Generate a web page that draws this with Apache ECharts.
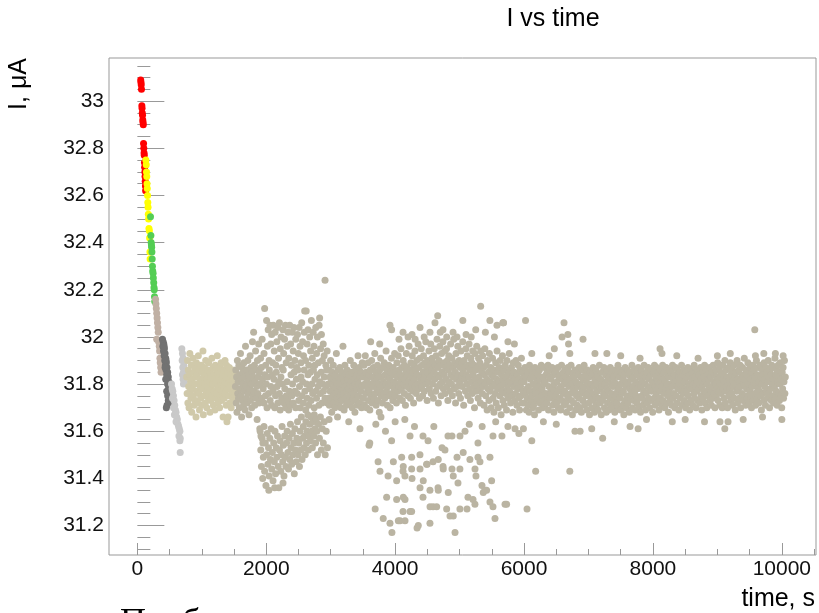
<!DOCTYPE html>
<html>
<head>
<meta charset="utf-8">
<title>I vs time</title>
<script src="https://cdn.jsdelivr.net/npm/echarts@6/dist/echarts.min.js"></script>
<style>
  html, body { margin: 0; padding: 0; background: #fff; }
  #chart { width: 819px; height: 613px; }
</style>
</head>
<body>
<div id="chart"></div>
<script>
// axis ticks
const xMajor = [0, 2000, 4000, 6000, 8000, 10000];
const xMinor = [500, 1000, 1500, 2500, 3000, 3500, 4500, 5000, 5500, 6500, 7000, 7500, 8500, 9000, 9500, 10500];
const yMajor = [31.2, 31.4, 31.6, 31.8, 32, 32.2, 32.4, 32.6, 32.8, 33];
const yMinor = [31.1, 31.15, 31.25, 31.3, 31.35, 31.45, 31.5, 31.55, 31.65, 31.7, 31.75, 31.85, 31.9, 31.95,
  32.05, 32.1, 32.15, 32.25, 32.3, 32.35, 32.45, 32.5, 32.55, 32.65, 32.7, 32.75, 32.85, 32.9, 32.95, 33.05, 33.1, 33.15];

// [time s, current uA]
const redPts = [[52,33.09],[56,33.08],[60,33.07],[64,33.05],[70,32.98],[73,32.97],[76,32.95],[80,32.94],[84,32.92],[88,32.91],
  [92,32.9],[96,32.82],[100,32.8],[104,32.78],[107,32.77],[110,32.74],[113,32.72],[116,32.7],[119,32.68],[122,32.66],[125,32.64],[128,32.62]];
const yellowPts = [[132,32.75],[138,32.73],[142,32.7],[146,32.68],[150,32.65],[154,32.63],[158,32.6],[162,32.57],[166,32.55],
  [170,32.52],[174,32.5],[180,32.46],[186,32.45],[190,32.42],[195,32.36],[198,32.33]];
const greenPts = [[204,32.51],[210,32.43],[214,32.4],[218,32.39],[222,32.38],[226,32.36],[230,32.33],[234,32.3],[238,32.28],
  [244,32.27],[248,32.25],[254,32.23],[258,32.21],[262,32.2],[266,32.17],[270,32.15]];
const tanPts = [[282,32.16],[288,32.14],[294,32.12],[300,32.1],[306,32.08],[312,32.06],[318,32.04],[324,32.02],[300,31.99],
  [330,31.98],[340,31.96],[345,31.94],[350,31.91],[355,31.89],[362,31.87],[368,31.85]];
const darkPts = [[390,31.99],[400,31.98],[410,31.97],[395,31.96],[420,31.95],[405,31.94],[430,31.93],[415,31.92],[440,31.91],
  [425,31.9],[450,31.89],[435,31.88],[460,31.87],[445,31.86],[470,31.85],[455,31.84],[480,31.83],[465,31.82],[490,31.81],
  [475,31.8],[500,31.79],[485,31.78],[510,31.77],[495,31.76],[470,31.75],[505,31.74],[480,31.73],[460,31.71],[520,31.72],
  [450,31.7],[415,31.96],[445,31.9],[430,31.87],[465,31.84],[490,31.78],[500,31.74],[470,31.8],[455,31.77],[440,31.82]];
const lightPts = [[690,31.95],[700,31.93],[710,31.91],[695,31.9],[720,31.88],[705,31.87],[715,31.85],[700,31.84],[725,31.83],
  [710,31.82],[730,31.81],[715,31.8],[530,31.8],[540,31.78],[550,31.77],[560,31.75],[545,31.74],[570,31.73],[580,31.71],
  [560,31.7],[590,31.69],[600,31.68],[575,31.67],[610,31.66],[620,31.65],[600,31.64],[630,31.63],[640,31.62],[650,31.61],
  [660,31.6],[645,31.58],[665,31.57],[660,31.56],[665,31.51]];
const beigePts = [[765,31.83],[772,31.76],[778,31.9],[784,31.72],[790,31.86],[796,31.79],[802,31.7],[808,31.84],[814,31.93],
  [820,31.77],[826,31.81],[832,31.74],[838,31.88],[844,31.68],[850,31.82],[856,31.78],[862,31.91],[868,31.75],[874,31.85],
  [880,31.71],[886,31.8],[892,31.87],[898,31.73],[904,31.83],[910,31.66],[916,31.89],[922,31.77],[928,31.84],[934,31.72],
  [940,31.8],[946,31.92],[952,31.76],[958,31.86],[964,31.69],[970,31.82],[976,31.79],[982,31.74],[988,31.88],[994,31.81],
  [1000,31.71],[1006,31.85],[1012,31.78],[1018,31.94],[1024,31.67],[1030,31.83],[1036,31.75],[1042,31.87],[1048,31.8],
  [1054,31.72],[1060,31.9],[1066,31.77],[1072,31.84],[1078,31.7],[1084,31.82],[1090,31.79],[1096,31.86],[1102,31.74],
  [1108,31.89],[1114,31.76],[1120,31.81],[1126,31.68],[1132,31.85],[1138,31.73],[1144,31.83],[1150,31.78],[1156,31.91],
  [1162,31.75],[1168,31.8],[1174,31.87],[1180,31.71],[1186,31.84],[1192,31.77],[1198,31.82],[1204,31.69],[1210,31.88],
  [1216,31.74],[1222,31.81],[1228,31.86],[1234,31.76],[1240,31.92],[1246,31.79],[1252,31.72],[1258,31.85],[1264,31.78],
  [1270,31.83],[1276,31.7],[1282,31.87],[1288,31.75],[1294,31.8],[1300,31.89],[1306,31.73],[1312,31.82],[1318,31.77],
  [1324,31.84],[1330,31.66],[1336,31.79],[1342,31.86],[1348,31.74],[1354,31.81],[1360,31.9],[1366,31.76],[1372,31.83],
  [1378,31.71],[1384,31.88],[1390,31.64],[1396,31.78],[1402,31.85],[1408,31.66],[1414,31.8],[1420,31.75],[1426,31.87],
  [1432,31.72],[1438,31.82],[1444,31.79],[1450,31.84],[1456,31.7],[1462,31.81],[1468,31.77],[1474,31.86],[1480,31.74],
  [1486,31.8],[1492,31.73],[1498,31.83],[1504,31.78],[1510,31.85],[1516,31.76]];

// main run, split by time range
const seg1500 = [[1522,31.79],[1528,31.86],[1534,31.72],[1540,31.83],[1546,31.68],[1552,31.9],[1558,31.76],[1564,31.81],
  [1570,31.74],[1576,31.88],[1582,31.7],[1588,31.84],[1594,31.78],[1600,31.93],[1606,31.75],[1612,31.82],[1618,31.66],
  [1624,31.87],[1630,31.73],[1636,31.8],[1642,31.85],[1648,31.71],[1654,31.89],[1660,31.77],[1666,31.83],[1672,31.69],
  [1678,31.96],[1684,31.79],[1690,31.74],[1696,31.86],[1702,31.72],[1708,31.81],[1714,31.9],[1720,31.76],[1726,31.84],
  [1732,31.67],[1738,31.82],[1744,31.78],[1750,31.92],[1756,31.73],[1762,31.87],[1768,31.8],[1774,31.7],[1780,31.85],
  [1786,31.98],[1792,31.75],[1798,31.83],[1804,32.02],[1810,31.77],[1816,31.88],[1822,31.71],[1828,31.81],[1834,31.94],
  [1840,31.74],[1846,31.86],[1852,31.79],[1858,31.65],[1864,31.9],[1870,31.76],[1876,31.83],[1882,31.97],[1888,31.72],
  [1894,31.85],[1900,31.61],[1906,31.8],[1912,31.91],[1918,31.58],[1924,31.87],[1930,31.74],[1936,31.99],[1942,31.82],[1948,31.55]];
const upper2000 = [[1965,31.93],[1975,32.12],[1990,31.88],[2005,32.07],[2018,31.96],[2030,32.03],[2044,31.9],[2058,32.05],
  [2070,31.97],[2084,32.01],[2098,31.89],[2110,32.05],[2124,31.94],[2138,32.02],[2150,31.88],[2164,31.98],[2178,32.04],
  [2190,31.91],[2204,32.06],[2218,31.95],[2230,32.0],[2244,31.87],[2258,32.03],[2270,31.93],[2284,31.99],[2298,32.05],
  [2310,31.89],[2324,31.96],[2338,32.02],[2350,31.91],[2364,32.05],[2378,31.97],[2390,31.88],[2404,32.02],[2418,31.94],
  [2430,32.04],[2444,31.9],[2458,31.99],[2470,31.87],[2484,32.01],[2498,31.93],[2510,32.04],[2524,31.96],[2538,31.89],
  [2550,32.06],[2564,31.98],[2578,31.92],[2590,32.02],[2596,32.11],[2610,31.9],[2620,32.11],[2634,31.97],[2648,32.03],
  [2660,31.88],[2674,32.0],[2688,31.94],[2700,32.07],[2714,31.91],[2728,32.02],[2740,31.96],[2754,31.88],[2768,32.04],
  [2780,31.93],[2794,32.0],[2808,31.89],[2820,32.05],[2828,32.08],[2842,31.95],[2856,32.01],[2870,31.9],[2884,31.97],
  [2898,31.92],[2912,32.24],[2925,31.88],[2945,31.94]];
const mid2000 = [[1952,31.78],[1964,31.72],[1976,31.84],[1988,31.75],[2000,31.8],[2012,31.7],[2024,31.83],[2036,31.76],
  [2048,31.86],[2060,31.73],[2072,31.79],[2084,31.71],[2096,31.84],[2108,31.77],[2120,31.82],[2132,31.7],[2144,31.75],
  [2156,31.85],[2168,31.79],[2180,31.72],[2192,31.81],[2204,31.76],[2216,31.69],[2228,31.83],[2240,31.74],[2252,31.8],
  [2264,31.86],[2276,31.72],[2288,31.78],[2300,31.7],[2312,31.75],[2324,31.81],[2336,31.73],[2348,31.69],[2360,31.77],
  [2372,31.71],[2384,31.84],[2396,31.75],[2408,31.8],[2420,31.72],[2432,31.85],[2444,31.77],[2456,31.7],[2468,31.82],
  [2480,31.76],[2492,31.86],[2504,31.73],[2516,31.79],[2528,31.7],[2540,31.83],[2552,31.75],[2564,31.81],[2576,31.72],
  [2588,31.86],[2600,31.77],[2612,31.69],[2624,31.8],[2636,31.74],[2648,31.84],[2660,31.71],[2672,31.78],[2684,31.85],
  [2696,31.73],[2708,31.8],[2720,31.76],[2732,31.86],[2744,31.7],[2756,31.82],[2768,31.77],[2780,31.74],[2792,31.84],
  [2804,31.79],[2816,31.71],[2828,31.81],[2840,31.76],[2852,31.85],[2864,31.72],[2876,31.8],[2888,31.77],[2900,31.83],
  [2912,31.74],[2924,31.79],[2936,31.86],[2948,31.72]];
const low2000 = [[1905,31.6],[1915,31.52],[1925,31.45],[1935,31.57],[1945,31.4],[1955,31.49],[1965,31.62],[1975,31.43],
  [1985,31.55],[1995,31.37],[2005,31.5],[2015,31.59],[2025,31.46],[2035,31.53],[2045,31.41],[2055,31.57],[2065,31.48],
  [2075,31.61],[2085,31.44],[2095,31.51],[2105,31.39],[2115,31.55],[2125,31.47],[2135,31.6],[2145,31.42],[2155,31.53],
  [2165,31.49],[2175,31.58],[2185,31.45],[2195,31.36],[2205,31.52],[2215,31.56],[2225,31.43],[2235,31.5],[2245,31.62],
  [2255,31.47],[2265,31.54],[2275,31.41],[2285,31.58],[2295,31.49],[2305,31.45],[2315,31.55],[2325,31.6],[2335,31.51],
  [2345,31.44],[2355,31.57],[2365,31.48],[2375,31.63],[2385,31.53],[2395,31.46],[2405,31.59],[2415,31.5],[2425,31.55],
  [2435,31.42],[2445,31.61],[2455,31.52],[2465,31.47],[2475,31.57],[2485,31.64],[2495,31.5],[2505,31.55],[2515,31.45],
  [2525,31.6],[2535,31.52],[2545,31.66],[2555,31.48],[2565,31.57],[2575,31.62],[2585,31.53],[2595,31.58],[2605,31.5],
  [2615,31.64],[2625,31.55],[2635,31.6],[2645,31.67],[2655,31.52],[2665,31.58],[2675,31.63],[2685,31.56],[2695,31.66],
  [2705,31.6],[2715,31.53],[2725,31.64],[2735,31.58],[2745,31.67],[2755,31.61],[2765,31.55],[2775,31.65],[2785,31.6],
  [2795,31.5],[2810,31.63],[2825,31.57],[2840,31.66],[2855,31.52],[2870,31.61],[2885,31.55],[2900,31.64],[2915,31.5],
  [2930,31.6],[2950,31.53],[2975,31.65],[2040,31.35],[2130,31.36],[2260,31.38]];
const seg3000 = [[2962,31.8],[2968,31.74],[2974,31.86],[2980,31.71],[2986,31.83],[2992,31.77],[2998,31.9],[3004,31.73],
  [3010,31.81],[3016,31.68],[3022,31.85],[3028,31.78],[3034,31.75],[3040,31.88],[3046,31.72],[3052,31.82],[3058,31.79],
  [3064,31.7],[3070,31.84],[3076,31.76],[3082,31.81],[3088,31.93],[3094,31.74],[3100,31.8],[3106,31.66],[3112,31.86],
  [3118,31.77],[3124,31.83],[3130,31.72],[3136,31.79],[3142,31.87],[3148,31.75],[3154,31.82],[3160,31.7],[3166,31.78],
  [3172,31.85],[3178,31.73],[3184,31.8],[3190,31.96],[3196,31.76],[3202,31.83],[3208,31.69],[3214,31.81],[3220,31.88],
  [3226,31.74],[3232,31.79],[3238,31.84],[3244,31.71],[3250,31.77],[3256,31.86],[3262,31.73],[3268,31.82],[3274,31.78],
  [3280,31.64],[3286,31.84],[3292,31.75],[3298,31.8],[3304,31.9],[3310,31.72],[3316,31.81],[3322,31.77],[3328,31.85],
  [3334,31.7],[3340,31.79],[3346,31.83],[3352,31.74],[3358,31.88],[3364,31.76],[3370,31.82],[3376,31.68],[3382,31.8],
  [3388,31.86],[3394,31.73],[3400,31.78],[3406,31.84],[3412,31.71],[3418,31.81],[3424,31.92],[3430,31.75],[3436,31.8],
  [3442,31.87],[3448,31.72],[3454,31.61],[3460,31.83],[3466,31.77],[3472,31.85],[3478,31.7],[3484,31.79],[3490,31.89],[3496,31.74]];
const band3500 = [[3502,31.83],[3509,31.74],[3516,31.88],[3523,31.71],[3530,31.8],[3537,31.92],[3544,31.76],[3551,31.85],
  [3558,31.7],[3565,31.82],[3572,31.78],[3579,31.89],[3586,31.73],[3593,31.84],[3600,31.77],[3607,31.69],[3614,31.86],
  [3621,31.8],[3628,31.75],[3635,31.9],[3642,31.72],[3649,31.83],[3656,31.79],[3663,31.87],[3670,31.74],[3677,31.81],
  [3684,31.93],[3691,31.76],[3698,31.85],[3705,31.71],[3712,31.82],[3719,31.78],[3726,31.88],[3733,31.73],[3740,31.84],
  [3747,31.8],[3754,31.68],[3761,31.86],[3768,31.77],[3775,31.91],[3782,31.75],[3789,31.83],[3796,31.79],[3803,31.72],
  [3810,31.87],[3817,31.81],[3824,31.76],[3831,31.89],[3838,31.74],[3845,31.84],[3852,31.8],[3859,31.94],[3866,31.77],
  [3873,31.86],[3880,31.71],[3887,31.83],[3894,31.79],[3901,31.88],[3908,31.75],[3915,31.82],[3922,31.7],[3929,31.85],
  [3936,31.8],[3943,31.91],[3950,31.76],[3957,31.84],[3964,31.73],[3971,31.87],[3978,31.81],[3985,31.78],[3992,31.93],
  [3999,31.75],[4006,31.85],[4013,31.8],[4020,31.72],[4027,31.89],[4034,31.83],[4041,31.77],[4048,31.92],[4055,31.79],
  [4062,31.86],[4069,31.74],[4076,31.84],[4083,31.81],[4090,31.95],[4097,31.78],[4104,31.87],[4111,31.73],[4118,31.83],
  [4125,31.9],[4132,31.8],[4139,31.76],[4146,31.88],[4153,31.82],[4160,31.71],[4167,31.85],[4174,31.93],[4181,31.79],
  [4188,31.87],[4195,31.75],[4202,31.84],[4209,31.81],[4216,31.96],[4223,31.78],[4230,31.86],[4237,31.74],[4244,31.89],
  [4251,31.83],[4258,31.8],[4265,31.92],[4272,31.77],[4279,31.85],[4286,31.72],[4293,31.88],[4300,31.82],[4307,31.94],
  [4314,31.79],[4321,31.86],[4328,31.76],[4335,31.9],[4342,31.84],[4349,31.8],[4356,31.97],[4363,31.78],[4370,31.87],
  [4377,31.74],[4384,31.91],[4391,31.83],[4398,31.81],[4405,31.95],[4412,31.79],[4419,31.88],[4426,31.75],[4433,31.85],
  [4440,31.92],[4447,31.82],[4454,31.77],[4461,31.89],[4468,31.84],[4475,31.98],[4482,31.8],[4489,31.87],[4496,31.73],
  [4503,31.9],[4510,31.85],[4517,31.81],[4524,31.94],[4531,31.78],[4538,31.88],[4545,31.83],[4552,31.97],[4559,31.76],
  [4566,31.86],[4573,31.91],[4580,31.8],[4587,31.89],[4594,31.74],[4601,31.85],[4608,31.95],[4615,31.82],[4622,31.88],
  [4629,31.77],[4636,31.92],[4643,31.84],[4650,31.99],[4657,31.79],[4664,31.87],[4671,31.72],[4678,31.9],[4685,31.83],
  [4692,31.96],[4699,31.8],[4706,31.88],[4713,31.75],[4720,31.93],[4727,31.85],[4734,31.81],[4741,31.98],[4748,31.78],
  [4755,31.89],[4762,31.84],[4769,31.94],[4776,31.76],[4783,31.87],[4790,31.82],[4797,31.95],[4804,31.79],[4811,31.9],
  [4818,31.73],[4825,31.86],[4832,31.92],[4839,31.81],[4846,31.88],[4853,31.77],[4860,31.97],[4867,31.84],[4874,31.8],
  [4881,31.91],[4888,31.75],[4895,31.87],[4902,31.83],[4909,31.99],[4916,31.78],[4923,31.89],[4930,31.85],[4937,31.72],
  [4944,31.93],[4951,31.82],[4958,31.88],[4965,31.79],[4972,31.96],[4979,31.84],[4986,31.76],[4993,31.9],[5000,31.81],
  [5007,31.87],[5014,31.74],[5021,31.94],[5028,31.83],[5035,31.89],[5042,31.79],[5049,31.98],[5056,31.85],[5063,31.71],
  [5070,31.9],[5077,31.82],[5084,31.87],[5091,31.77],[5098,31.95],[5105,31.84],[5112,31.8],[5119,31.92],[5126,31.75],
  [5133,31.88],[5140,31.83],[5147,31.97],[5154,31.78],[5161,31.86],[5168,31.73],[5175,31.91],[5182,31.81],[5189,31.89],
  [5196,31.76],[5203,31.94],[5210,31.84],[5217,31.79],[5224,31.88],[5231,31.7],[5238,31.93],[5245,31.82],[5252,31.86],
  [5259,31.77],[5266,31.96],[5273,31.8],[5280,31.87],[5287,31.74],[5294,31.91],[5301,31.83],[5308,31.78],[5315,31.89],
  [5322,31.72],[5329,31.94],[5336,31.81],[5343,31.85],[5350,31.76],[5357,31.92],[5364,31.79],[5371,31.87],[5378,31.71],
  [5385,31.84],[5392,31.95],[5399,31.8],[5406,31.75],[5413,31.88],[5420,31.82],[5427,31.69],[5434,31.9],[5441,31.78],
  [5448,31.85],[5455,31.73],[5462,31.93],[5469,31.81],[5476,31.77],[5483,31.87],[5490,31.7],[5497,31.84],[5504,31.79],
  [5511,31.91],[5518,31.74],[5525,31.83],[5532,31.68],[5539,31.86],[5546,31.8],[5553,31.76],[5560,31.89],[5567,31.72],
  [5574,31.82],[5581,31.94],[5588,31.78],[5595,31.85],[5602,31.7],[5609,31.81],[5616,31.87],[5623,31.75],[5630,31.9],
  [5637,31.79],[5644,31.67],[5651,31.84],[5658,31.77],[5665,31.92],[5672,31.73],[5679,31.82],[5686,31.86],[5693,31.71],
  [5700,31.8],[5707,31.88],[5714,31.76],[5721,31.83],[5728,31.69],[5735,31.9],[5742,31.78],[5749,31.84],[5756,31.74],
  [5763,31.81],[5770,31.93],[5777,31.77],[5784,31.86],[5791,31.72],[5798,31.8],[5805,31.87],[5812,31.75],[5819,31.83],
  [5826,31.68],[5833,31.89],[5840,31.79],[5847,31.85],[5854,31.73],[5861,31.82],[5868,31.76],[5875,31.9],[5882,31.8],
  [5889,31.71],[5896,31.84],[5903,31.78],[5910,31.88],[5917,31.74],[5924,31.82],[5931,31.69],[5938,31.86],[5945,31.79],
  [5952,31.75],[5959,31.91],[5966,31.81],[5973,31.72],[5980,31.85],[5987,31.77],[5994,31.83]];
const upper3500 = [[3620,31.98],[3760,31.97],[3920,32.05],[3945,32.03],[4060,31.99],[4122,32.02],[4200,32.0],[4262,32.01],
  [4310,31.99],[4386,32.04],[4450,32.0],[4540,32.02],[4618,32.06],[4660,32.09],[4700,32.02],[4742,32.03],[4800,32.0],
  [4898,32.02],[4960,32.0],[5050,32.07],[5100,32.01],[5180,32.0],[5250,32.03],[5327,32.13],[5400,32.02],[5470,32.07],
  [5540,32.0],[5580,32.05],[5670,32.06],[5680,32.06],[5750,31.98],[5850,31.97]];
const lowMid3500 = [[3595,31.54],[3606,31.55],[3700,31.63],[3850,31.6],[3945,31.56],[4000,31.64],[4231,31.58],[4300,31.62],
  [4432,31.58],[4510,31.56],[4600,31.62],[4820,31.58],[4882,31.58],[5006,31.58],[5084,31.6],[5150,31.63],[5350,31.62],
  [5518,31.58],[5657,31.58],[5750,31.62],[5860,31.61],[5990,31.61],[5920,31.59],[5560,31.64],[4150,31.65],[3780,31.66]];
const lowCluster = [[3690,31.27],[3735,31.47],[3765,31.43],[3815,31.23],[3868,31.32],[3890,31.41],[3920,31.21],[3950,31.17],
  [3972,31.47],[4023,31.39],[4023,31.31],[4049,31.22],[4076,31.22],[4101,31.49],[4122,31.43],[4126,31.45],[4126,31.32],
  [4152,31.41],[4153,31.22],[4153,31.31],[4122,31.26],[4231,31.26],[4256,31.49],[4256,31.44],[4256,31.26],[4262,31.4],
  [4340,31.19],[4359,31.2],[4385,31.5],[4386,31.44],[4386,31.36],[4432,31.32],[4436,31.39],[4488,31.46],[4495,31.46],
  [4540,31.35],[4540,31.21],[4541,31.28],[4588,31.47],[4588,31.28],[4644,31.28],[4665,31.36],[4669,31.48],[4669,31.35],
  [4727,31.53],[4743,31.45],[4746,31.44],[4773,31.52],[4799,31.27],[4824,31.34],[4851,31.24],[4882,31.44],[4902,31.41],
  [4902,31.24],[4929,31.17],[4960,31.49],[4975,31.38],[5005,31.44],[5005,31.27],[5056,31.51],[5115,31.27],[5130,31.32],
  [5160,31.48],[5208,31.31],[5238,31.29],[5239,31.44],[5254,31.41],[5285,31.49],[5285,31.55],[5316,31.47],[5347,31.37],
  [5367,31.34],[5394,31.35],[5419,31.35],[5471,31.49],[5471,31.3],[5497,31.39],[5518,31.28],[5549,31.23],[5705,31.29],
  [5729,31.29],[6046,31.27]];
const band6000 = [[6001,31.81],[6008,31.72],[6015,31.87],[6022,31.76],[6029,31.83],[6036,31.69],[6043,31.78],[6050,31.74],
  [6057,31.85],[6064,31.71],[6071,31.79],[6078,31.68],[6085,31.88],[6092,31.77],[6099,31.82],[6106,31.73],[6113,31.86],
  [6120,31.75],[6127,31.84],[6134,31.7],[6141,31.8],[6148,31.71],[6155,31.83],[6162,31.67],[6169,31.87],[6176,31.78],
  [6183,31.76],[6190,31.85],[6197,31.73],[6204,31.81],[6211,31.74],[6218,31.84],[6225,31.69],[6232,31.79],[6239,31.86],
  [6246,31.72],[6253,31.82],[6260,31.77],[6267,31.88],[6274,31.75],[6281,31.78],[6288,31.7],[6295,31.83],[6302,31.8],
  [6309,31.73],[6316,31.87],[6323,31.71],[6330,31.81],[6337,31.76],[6344,31.84],[6351,31.72],[6358,31.85],[6365,31.75],
  [6372,31.88],[6379,31.69],[6386,31.79],[6393,31.83],[6400,31.74],[6407,31.86],[6414,31.77],[6421,31.82],[6428,31.76],
  [6435,31.87],[6442,31.71],[6449,31.78],[6456,31.84],[6463,31.68],[6470,31.8],[6477,31.73],[6484,31.85],[6491,31.75],
  [6498,31.86],[6505,31.72],[6512,31.81],[6519,31.77],[6526,31.87],[6533,31.7],[6540,31.83],[6547,31.78],[6554,31.74],
  [6561,31.84],[6568,31.69],[6575,31.79],[6582,31.88],[6589,31.73],[6596,31.82],[6603,31.76],[6610,31.85],[6617,31.71],
  [6624,31.8],[6631,31.77],[6638,31.86],[6645,31.72],[6652,31.83],[6659,31.68],[6666,31.81],[6673,31.75],[6680,31.87],
  [6687,31.74],[6694,31.79],[6701,31.85],[6708,31.7],[6715,31.82],[6722,31.76],[6729,31.88],[6736,31.73],[6743,31.8],
  [6750,31.67],[6757,31.84],[6764,31.78],[6771,31.72],[6778,31.83],[6785,31.77],[6792,31.86],[6799,31.69],[6806,31.81],
  [6813,31.75],[6820,31.85],[6827,31.71],[6834,31.79],[6841,31.84],[6848,31.74],[6855,31.87],[6862,31.7],[6869,31.8],
  [6876,31.76],[6883,31.83],[6890,31.68],[6897,31.78],[6904,31.86],[6911,31.73],[6918,31.82],[6925,31.77],[6932,31.88],
  [6939,31.71],[6946,31.79],[6953,31.84],[6960,31.75],[6967,31.81],[6974,31.69],[6981,31.86],[6988,31.76],[6995,31.8],
  [7002,31.72],[7009,31.83],[7016,31.67],[7023,31.78],[7030,31.85],[7037,31.74],[7044,31.8],[7051,31.7],[7058,31.84],
  [7065,31.76],[7072,31.87],[7079,31.73],[7086,31.79],[7093,31.68],[7100,31.82],[7107,31.75],[7114,31.86],[7121,31.71],
  [7128,31.8],[7135,31.77],[7142,31.84],[7149,31.69],[7156,31.83],[7163,31.74],[7170,31.88],[7177,31.72],[7184,31.78],
  [7191,31.82],[7198,31.67],[7205,31.79],[7212,31.85],[7219,31.73],[7226,31.81],[7233,31.76],[7240,31.87],[7247,31.7],
  [7254,31.8],[7261,31.75],[7268,31.84],[7275,31.68],[7282,31.78],[7289,31.86],[7296,31.72],[7303,31.82],[7310,31.77],
  [7317,31.69],[7324,31.83],[7331,31.74],[7338,31.87],[7345,31.71],[7352,31.8],[7359,31.76],[7366,31.85],[7373,31.7],
  [7380,31.79],[7387,31.83],[7394,31.73],[7401,31.81],[7408,31.68],[7415,31.86],[7422,31.75],[7429,31.8],[7436,31.72],
  [7443,31.84],[7450,31.77],[7457,31.88],[7464,31.7],[7471,31.78],[7478,31.83],[7485,31.74],[7492,31.86],[7499,31.69],
  [7506,31.8],[7513,31.76],[7520,31.85],[7527,31.71],[7534,31.82],[7541,31.77],[7548,31.67],[7555,31.84],[7562,31.73],
  [7569,31.87],[7576,31.79],[7583,31.7],[7590,31.81],[7597,31.75],[7604,31.86],[7611,31.72],[7618,31.8],[7625,31.84],
  [7632,31.68],[7639,31.78],[7646,31.85],[7653,31.74],[7660,31.82],[7667,31.76],[7674,31.88],[7681,31.7],[7688,31.79],
  [7695,31.83],[7702,31.73],[7709,31.86],[7716,31.77],[7723,31.69],[7730,31.81],[7737,31.75],[7744,31.85],[7751,31.72],
  [7758,31.84],[7765,31.78],[7772,31.87],[7779,31.7],[7786,31.8],[7793,31.74],[7800,31.83],[7807,31.68],[7814,31.79],
  [7821,31.86],[7828,31.75],[7835,31.81],[7842,31.71],[7849,31.84],[7856,31.77],[7863,31.88],[7870,31.73],[7877,31.8],
  [7884,31.69],[7891,31.83],[7898,31.76],[7905,31.85],[7912,31.72],[7919,31.79],[7926,31.87],[7933,31.74],[7940,31.82],
  [7947,31.7],[7954,31.78],[7961,31.84],[7968,31.73],[7975,31.86],[7982,31.77],[7989,31.81],[7996,31.68],[8003,31.8],
  [8010,31.85],[8017,31.74],[8024,31.88],[8031,31.71],[8038,31.79],[8045,31.83],[8052,31.76],[8059,31.87],[8066,31.72],
  [8073,31.81],[8080,31.78],[8087,31.85],[8094,31.69],[8101,31.8],[8108,31.74],[8115,31.86],[8122,31.77],[8129,31.83],
  [8136,31.71],[8143,31.79],[8150,31.88],[8157,31.73],[8164,31.82],[8171,31.76],[8178,31.85],[8185,31.7],[8192,31.81],
  [8199,31.78],[8206,31.87],[8213,31.72],[8220,31.8],[8227,31.84],[8234,31.75],[8241,31.68],[8248,31.83],[8255,31.77],
  [8262,31.86],[8269,31.73],[8276,31.8],[8283,31.85],[8290,31.71],[8297,31.79],[8304,31.88],[8311,31.74],[8318,31.82],
  [8325,31.76],[8332,31.84],[8339,31.7],[8346,31.81],[8353,31.87],[8360,31.75],[8367,31.79],[8374,31.72],[8381,31.86],
  [8388,31.78],[8395,31.83],[8402,31.69],[8409,31.8],[8416,31.85],[8423,31.74],[8430,31.82],[8437,31.77],[8444,31.88],
  [8451,31.71],[8458,31.79],[8465,31.84],[8472,31.76],[8479,31.86],[8486,31.73],[8493,31.81],[8500,31.78],[8507,31.7],
  [8514,31.85],[8521,31.77],[8528,31.83],[8535,31.72],[8542,31.87],[8549,31.75],[8556,31.8],[8563,31.84],[8570,31.69],
  [8577,31.79],[8584,31.86],[8591,31.73],[8598,31.82],[8605,31.78],[8612,31.85],[8619,31.71],[8626,31.8],[8633,31.76],
  [8640,31.88],[8647,31.74],[8654,31.83],[8661,31.79],[8668,31.7],[8675,31.86],[8682,31.77],[8689,31.81],[8696,31.73],
  [8703,31.85],[8710,31.78],[8717,31.84],[8724,31.72],[8731,31.8],[8738,31.87],[8745,31.75],[8752,31.82],[8759,31.69],
  [8766,31.79],[8773,31.85],[8780,31.74],[8787,31.83],[8794,31.77],[8801,31.88],[8808,31.72],[8815,31.81],[8822,31.76],
  [8829,31.86],[8836,31.7],[8843,31.8],[8850,31.84],[8857,31.75],[8864,31.82],[8871,31.78],[8878,31.87],[8885,31.73],
  [8892,31.83],[8899,31.77],[8906,31.71],[8913,31.85],[8920,31.79],[8927,31.74],[8934,31.88],[8941,31.81],[8948,31.76],
  [8955,31.84],[8962,31.7],[8969,31.8],[8976,31.86],[8983,31.75],[8990,31.83],[8997,31.78],[9004,31.89],[9011,31.73],
  [9018,31.82],[9025,31.77],[9032,31.87],[9039,31.71],[9046,31.8],[9053,31.85],[9060,31.76],[9067,31.83],[9074,31.7],
  [9081,31.88],[9088,31.78],[9095,31.84],[9102,31.74],[9109,31.81],[9116,31.9],[9123,31.72],[9130,31.79],[9137,31.86],
  [9144,31.77],[9151,31.83],[9158,31.7],[9165,31.8],[9172,31.87],[9179,31.75],[9186,31.82],[9193,31.78],[9200,31.89],
  [9207,31.73],[9214,31.84],[9221,31.76],[9228,31.86],[9235,31.71],[9242,31.81],[9249,31.79],[9256,31.88],[9263,31.74],
  [9270,31.83],[9277,31.69],[9284,31.8],[9291,31.85],[9298,31.77],[9305,31.9],[9312,31.72],[9319,31.82],[9326,31.78],
  [9333,31.86],[9340,31.74],[9347,31.81],[9354,31.88],[9361,31.7],[9368,31.79],[9375,31.84],[9382,31.76],[9389,31.87],
  [9396,31.73],[9403,31.83],[9410,31.8],[9417,31.91],[9424,31.75],[9431,31.82],[9438,31.71],[9445,31.86],[9452,31.78],
  [9459,31.84],[9466,31.74],[9473,31.89],[9480,31.8],[9487,31.72],[9494,31.83],[9501,31.77],[9508,31.87],[9515,31.75],
  [9522,31.82],[9529,31.7],[9536,31.85],[9543,31.79],[9550,31.88],[9557,31.73],[9564,31.81],[9571,31.86],[9578,31.76],
  [9585,31.83],[9592,31.71],[9599,31.8],[9606,31.9],[9613,31.74],[9620,31.84],[9627,31.78],[9634,31.87],[9641,31.72],
  [9648,31.81],[9655,31.77],[9662,31.88],[9669,31.75],[9676,31.83],[9683,31.69],[9690,31.8],[9697,31.86],[9704,31.76],
  [9711,31.84],[9718,31.73],[9725,31.89],[9732,31.79],[9739,31.82],[9746,31.71],[9753,31.87],[9760,31.77],[9767,31.85],
  [9774,31.74],[9781,31.81],[9788,31.9],[9795,31.76],[9802,31.83],[9809,31.7],[9816,31.86],[9823,31.78],[9830,31.84],
  [9837,31.73],[9844,31.88],[9851,31.8],[9858,31.75],[9865,31.87],[9872,31.72],[9879,31.82],[9886,31.79],[9893,31.91],
  [9900,31.74],[9907,31.84],[9914,31.77],[9921,31.86],[9928,31.71],[9935,31.81],[9942,31.88],[9949,31.76],[9956,31.83],
  [9963,31.73],[9970,31.8],[9977,31.89],[9984,31.75],[9991,31.82],[9998,31.7],[10005,31.85],[10012,31.78],[10019,31.87],
  [10026,31.74],[10033,31.81],[10040,31.9],[10047,31.76],[10054,31.83]];
const fringe6000 = [[6023,32.07],[6120,31.93],[6390,31.92],[6470,31.95],[6590,32.0],[6620,32.06],[6680,32.01],[6690,31.97],
  [6710,31.93],[6915,31.99],[7100,31.93],[7285,31.93],[7500,31.92],[7800,31.91],[8110,31.95],[8140,31.93],[8370,31.92],
  [8700,31.91],[9000,31.92],[9200,31.93],[9580,32.03],[9590,31.92],[9720,31.93],[9900,31.93],[10020,31.92],[5680,32.06],
  [6120,31.56],[6180,31.43],[6710,31.43],[7220,31.57],[6790,31.6],[6870,31.6],[7050,31.61],[7645,31.62],[7770,31.61],
  [9040,31.64],[9115,31.61],[9165,31.64],[6300,31.64],[6500,31.63],[7400,31.64],[7900,31.65],[8300,31.64],[8500,31.65],
  [8800,31.64],[9400,31.65],[9700,31.66],[10000,31.65]];

const mainPts = [].concat(seg1500, upper2000, mid2000, low2000, seg3000, band3500, upper3500, lowMid3500, lowCluster, band6000, fringe6000);

const FONT = '"Liberation Sans", Arial, sans-serif';

function dots(data, color) {
  return {
    type: 'scatter',
    data: data,
    symbol: 'circle',
    symbolSize: 7,
    itemStyle: { color: color, opacity: 1 },
    silent: true,
    animation: false
  };
}

function plain(v) {
  return String(v);
}

const chart = echarts.init(document.getElementById('chart'), null, { renderer: 'canvas' });

chart.setOption({
  backgroundColor: '#fff',
  animation: false,
  grid: {
    left: 109, right: 3, top: 58, bottom: 58,
    show: true, borderColor: '#999', borderWidth: 1,
    containLabel: false, outerBoundsMode: 'none'
  },
  xAxis: [
    {
      type: 'value', min: -440, max: 10530, position: 'bottom',
      axisLine: { show: false },
      splitLine: { show: false },
      axisTick: { inside: true, length: 12, customValues: xMajor, lineStyle: { color: '#999' } },
      axisLabel: { customValues: xMajor, formatter: plain, fontSize: 21, color: '#111', margin: 4, fontFamily: FONT }
    },
    {
      type: 'value', min: -440, max: 10530, position: 'bottom',
      axisLine: { show: false },
      splitLine: { show: false },
      axisLabel: { show: false },
      axisTick: { inside: true, length: 6, customValues: xMinor, lineStyle: { color: '#999' } }
    }
  ],
  yAxis: [
    {
      type: 'value', min: 31.075, max: 33.183, position: 'left',
      axisLine: { show: false },
      splitLine: { show: false },
      axisTick: { inside: true, length: 27, customValues: yMajor, lineStyle: { color: '#999' } },
      axisLabel: { customValues: yMajor, formatter: plain, fontSize: 21, color: '#111', margin: 5, fontFamily: FONT }
    },
    {
      type: 'value', min: 31.075, max: 33.183, position: 'left',
      axisLine: { show: false },
      splitLine: { show: false },
      axisLabel: { show: false },
      axisTick: { inside: true, length: 13, customValues: yMinor, lineStyle: { color: '#999' } }
    }
  ],
  series: [
    dots(redPts, '#ff0000'),
    dots(yellowPts, '#ffff00'),
    dots(greenPts, '#54ce54'),
    dots(tanPts, '#c0b0a4'),
    dots(darkPts, '#727272'),
    dots(lightPts, '#c9c9c9'),
    dots(beigePts, '#d0c9aa'),
    dots(mainPts, '#bab4a2')
  ],
  graphic: [
    { type: 'text', x: 553, y: 19, silent: true,
      style: { text: 'I vs time', font: '25px ' + FONT, fill: '#000', textAlign: 'center', textVerticalAlign: 'middle', align: 'center', verticalAlign: 'middle' } },
    { type: 'text', x: 19, y: 58, rotation: Math.PI / 2, silent: true,
      style: { text: 'I, μA', font: '25px ' + FONT, fill: '#000', textAlign: 'right', textVerticalAlign: 'middle', align: 'right', verticalAlign: 'middle' } },
    { type: 'text', x: 815, y: 599, silent: true,
      style: { text: 'time, s', font: '25px ' + FONT, fill: '#000', textAlign: 'right', textVerticalAlign: 'middle', align: 'right', verticalAlign: 'middle' } },
    { type: 'text', x: 58, y: 606, silent: true,
      style: { text: '➢', font: '30px "DejaVu Sans"', fill: '#000', textAlign: 'left', textVerticalAlign: 'top', align: 'left', verticalAlign: 'top' } },
    { type: 'text', x: 120, y: 606, silent: true,
      style: { text: 'Пробег', font: '36px "Liberation Serif"', fill: '#000', textAlign: 'left', textVerticalAlign: 'top', align: 'left', verticalAlign: 'top' } }
  ]
});
</script>
</body>
</html>
